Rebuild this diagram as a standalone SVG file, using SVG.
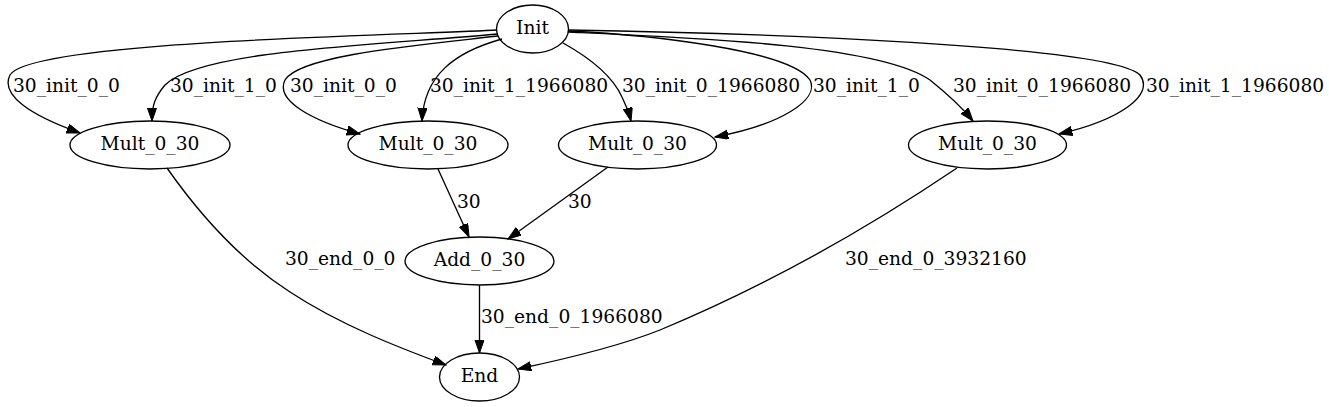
<svg xmlns="http://www.w3.org/2000/svg" width="1329" height="407" viewBox="0 0 1329 407">
<style>
  .node ellipse { fill: none; stroke: #000; stroke-width: 1.33; }
  text { font-family: "DejaVu Serif", "Liberation Serif", serif; font-size: 18.67px; fill: #000; }
  .node text { text-anchor: middle; }
  .edges path { fill: none; stroke: #000; stroke-width: 1.33; marker-end: url(#arr); }
</style>
<defs>
  <marker id="arr" markerUnits="userSpaceOnUse" markerWidth="14" markerHeight="10" refX="13.3" refY="4.67" orient="auto">
    <path d="M0,0 L13.3,4.67 L0,9.33 Z" fill="#000" stroke="#000" stroke-width="1"/>
  </marker>
</defs>
<rect width="1329" height="407" fill="#fff"/>
<g class="edges">
  <path d="M497,30 C420,35 30,40 10,75 C0,95 30,115 80,133"/>
  <path d="M498,34 C380,45 200,50 165,85 C155,97 152,105 152,121"/>
  <path d="M498,36 C420,45 300,55 285,80 C275,100 310,120 360,134"/>
  <path d="M502,39 C455,52 424,75 422,121"/>
  <path d="M563,43 C590,58 612,75 622,97 C626,105 629,113 631,121"/>
  <path d="M568,31 C650,35 790,50 810,80 C820,100 780,125 715,137"/>
  <path d="M568,32 C700,38 880,45 930,80 C945,92 960,105 973,121"/>
  <path d="M568,30 C750,33 1110,45 1140,75 C1155,95 1120,120 1059,134"/>
  <path d="M167,168 C200,215 240,260 290,292 C340,325 400,348 446,365"/>
  <path d="M438,169 L469,237"/>
  <path d="M608,167 L508,239"/>
  <path d="M479.5,285 L479.5,353"/>
  <path d="M957,168 C880,220 780,280 660,330 C620,346 570,358 518,369"/>
  <text x="13" y="92">30_init_0_0</text>
  <text x="170" y="92">30_init_1_0</text>
  <text x="290" y="92">30_init_0_0</text>
  <text x="430" y="92">30_init_1_1966080</text>
  <text x="622" y="92">30_init_0_1966080</text>
  <text x="813" y="92">30_init_1_0</text>
  <text x="953" y="92">30_init_0_1966080</text>
  <text x="1146" y="92">30_init_1_1966080</text>
  <text x="285" y="265">30_end_0_0</text>
  <text x="457" y="208">30</text>
  <text x="568" y="208">30</text>
  <text x="481" y="323">30_end_0_1966080</text>
  <text x="845" y="265">30_end_0_3932160</text>
</g>
<g id="init" class="node"><ellipse cx="532.5" cy="29" rx="36" ry="24"/><text x="532.5" y="34">Init</text></g>
<g id="mult1" class="node"><ellipse cx="150" cy="145" rx="80" ry="24"/><text x="150" y="150">Mult_0_30</text></g>
<g id="mult2" class="node"><ellipse cx="428" cy="145" rx="80" ry="24"/><text x="428" y="150">Mult_0_30</text></g>
<g id="mult3" class="node"><ellipse cx="637.5" cy="145" rx="79" ry="24"/><text x="637.5" y="150">Mult_0_30</text></g>
<g id="mult4" class="node"><ellipse cx="987.5" cy="145" rx="79" ry="24"/><text x="987.5" y="150">Mult_0_30</text></g>
<g id="add" class="node"><ellipse cx="479.5" cy="261" rx="74.5" ry="24"/><text x="479.5" y="266">Add_0_30</text></g>
<g id="end" class="node"><ellipse cx="479.5" cy="377" rx="40" ry="24"/><text x="479.5" y="382">End</text></g>
</svg>
